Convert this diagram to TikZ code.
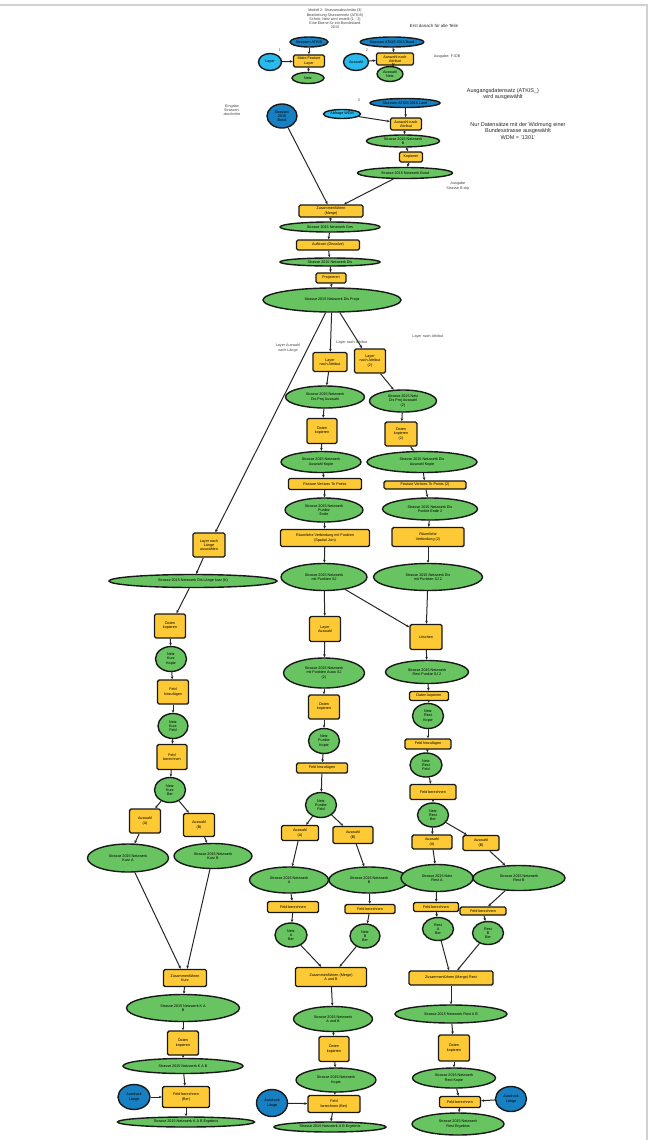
\documentclass[tikz,border=0pt]{standalone}
\usepackage{fontspec}
\setmainfont{Liberation Sans}
\usetikzlibrary{shapes.geometric, arrows.meta, positioning}
\definecolor{wkzgelb}{RGB}{253,201,52}
\definecolor{datgruen}{RGB}{104,196,96}
\definecolor{eindunkel}{RGB}{22,128,194}
\definecolor{paramhell}{RGB}{40,186,238}
\tikzset{wh/.style 2 args={minimum width=#1pt, minimum height=#2pt}}

\begin{document}
\begin{tikzpicture}[x=1pt, y=-1pt, >={Stealth[length=3pt, width=2.6pt]}, font=\fontsize{3.7}{4.2}\selectfont]
    \tikzstyle{wkz} = [rectangle, draw=black!90, fill=wkzgelb, line width=1.4pt, rounded corners=1.5pt, inner sep=0pt, align=center]
    \tikzstyle{dat} = [ellipse, draw=black!90, fill=datgruen, line width=1.4pt, inner sep=0pt, align=center]
    \tikzstyle{ein} = [ellipse, draw=black!90, fill=eindunkel, line width=1.4pt, inner sep=0pt, align=center]
    \tikzstyle{param} = [ellipse, draw=black!90, fill=paramhell, line width=1.4pt, inner sep=0pt, align=center]
    \tikzstyle{notiz} = [text=black!85, align=center, font=\fontsize{5.5}{6.6}\selectfont]
    \tikzstyle{klein} = [text=black!75, align=center, font=\fontsize{3.7}{4.3}\selectfont]
    \tikzstyle{pfeil} = [->, line width=1pt, draw=black!85]

    \useasboundingbox (0,0) rectangle (650,1140);
    \draw [black!18, line width=1.6pt] (0,5) -- (647,5) -- (647,1140);

    % Nodes: Kopf
    \node [klein] (kopf) at (335,19) {Modell 2: Strassenabschnitte (3)\\ Bearbeitung Strassennetz (ATKIS)\\ Schritt: Netz wird erstellt (1 - 3)\\ Eine Ebene für ein Bundesland\\ 2015};
    \node [notiz, font=\fontsize{4.4}{5}\selectfont] (hinweis) at (434,26) {Erst danach für alle Teile};

    \node [ein, wh={38}{10}] (einA) at (309,42) {Strassen ATKIS};
    \node [param, wh={23}{17}] (parA) at (270,62) {Layer};
    \node [wkz, wh={31}{12}] (makeA) at (309,61) {Make Feature\\ Layer};
    \node [dat, wh={32}{11}] (ausA) at (308,78) {Netz};
    \node [klein] at (280,50) {1};

    \node [ein, wh={61}{10}] (einB) at (392,42) {Strassen ATKIS 2015 Bund};
    \node [param, wh={25}{17}] (parB) at (356,62) {Auswahl};
    \node [wkz, wh={37}{12}] (selB) at (395,59) {Auswahl nach\\ Attribut};
    \node [dat, wh={26}{15}] (ausB) at (390,74) {Auswahl\\ Netz};
    \node [klein] at (367,50) {2};
    \node [klein] at (447,57) {Ausgabe: F:\textbackslash DB};

    \node [klein] (eingabe) at (232,110) {Eingabe\\ Strassen-\\ abschnitte};
    \node [ein, wh={30}{24}] (einC) at (282,116) {Strassen\\ 2015\\ Bund};
    \node [klein] at (359,100) {3};
    \node [ein, wh={70}{9}] (einD) at (405,103) {Strassen ATKIS 2015 Land};
    \node [param, wh={37}{9}] (parD) at (342,114) {Abfrage WDM};
    \node [wkz, wh={31}{12}] (selD) at (406,124) {Auswahl nach\\ Attribut};
    \node [dat, wh={73}{12}] (ausD1) at (403,141) {Strasse 2015 Netzwerk\\ B};
    \node [wkz, wh={23}{10}] (kopD) at (411,157) {Kopieren};
    \node [dat, wh={95}{11}] (ausD2) at (405,173) {Strasse 2015 Netzwerk Bund};
    \node [klein] at (458,186) {Ausgabe\\ Strasse B.shp};
    \node [notiz] at (503,94) {Ausgangsdatensatz (ATKIS\_)\\ wird ausgewählt};
    \node [notiz] at (518,131) {Nur Datensätze mit der Widmung einer\\ Bundesstrasse ausgewählt\\ WDM = '1301'};

    % Nodes: Mitte oben
    \node [wkz, wh={64}{12}] (merge1) at (331,211) {Zusammenführen\\ (Merge)};
    \node [dat, wh={100}{10}] (netz1) at (330,227) {Strasse 2015 Netzwerk Ges};
    \node [wkz, wh={63}{10}] (aufl) at (328,245) {Auflösen (Dissolve)};
    \node [dat, wh={100}{8}] (netz2) at (330,262) {Strasse 2015 Netzwerk Dis};
    \node [wkz, wh={30}{10}] (proj) at (331,278) {Projizieren};
    \node [dat, wh={138}{24}] (netz3) at (332,300) {Strasse 2015 Netzwerk Dis Projiz};
    \node [klein] at (288,348) {Layer Auswahl\\ nach Länge};
    \node [klein] at (352,343) {Layer nach Attribut};
    \node [klein] at (428,337) {Layer nach Attribut};

    % Nodes: Kette Mitte
    \node [wkz, wh={34}{19}] (h0) at (330,362) {Layer\\ nach Attribut};
    \node [dat, wh={79}{22}] (h1) at (325,397) {Strasse 2015 Netzwerk\\ Dis Proj Auswahl};
    \node [wkz, wh={30}{25}] (h2) at (322,431) {Daten\\ kopieren};
    \node [dat, wh={80}{21}] (h3) at (321,462) {Strasse 2015 Netzwerk\\ Auswahl Kopie};
    \node [wkz, wh={73}{11}] (h4) at (325,484) {Feature Vertices To Points};
    \node [dat, wh={78}{24}] (h5) at (324,510) {Strasse 2015 Netzwerk\\ Punkte\\ Ende};
    \node [wkz, wh={89}{17}] (h6) at (325,538) {Räumliche Verbindung mit Punkten\\ (Spatial Join)};
    \node [dat, wh={86}{27}] (h7) at (324,577) {Strasse 2015 Netzwerk\\ mit Punkten SJ};
    \node [wkz, wh={31}{25}] (h8) at (325,629) {Layer\\ Auswahl};
    \node [dat, wh={81}{30}] (h9) at (324,673) {Strasse 2015 Netzwerk\\ mit Punkten Ausw SJ\\ (2)};
    \node [wkz, wh={31}{24}] (h10) at (324,707) {Daten\\ kopieren};
    \node [dat, wh={31}{25}] (h11) at (324,741) {Netz\\ Punkte\\ Kopie};
    \node [wkz, wh={51}{10}] (h12) at (322,768) {Feld hinzufügen};
    \node [dat, wh={31}{25}] (h13) at (321,805) {Netz\\ Punkte\\ Feld};
    \node [wkz, wh={37}{15}] (h14a) at (300,833) {Auswahl\\ (A)};
    \node [wkz, wh={40}{17}] (h14b) at (353,835) {Auswahl\\ (B)};
    \node [dat, wh={79}{26}] (h15a) at (289,880) {Strasse 2015 Netzwerk\\ A};
    \node [dat, wh={80}{26}] (h15b) at (369,880) {Strasse 2015 Netzwerk\\ B};
    \node [wkz, wh={51}{11}] (h16a) at (293,907) {Feld berechnen};
    \node [wkz, wh={50}{9}] (h16b) at (370,909) {Feld berechnen};
    \node [dat, wh={32}{24}] (h17a) at (291,935) {Netz\\ A\\ Ber};
    \node [dat, wh={30}{24}] (h17b) at (365,936) {Netz\\ B\\ Ber};
    \node [wkz, wh={71}{19}] (h18) at (331,977) {Zusammenführen (Merge)\\ A und B};
    \node [dat, wh={79}{25}] (h19) at (333,1019) {Strasse 2015 Netzwerk\\ A und B};
    \node [wkz, wh={30}{25}] (h20) at (334,1049) {Daten\\ kopieren};
    \node [dat, wh={80}{24}] (h21) at (336,1080) {Strasse 2015 Netzwerk\\ Kopie};
    \node [wkz, wh={52}{17}] (h22) at (334,1104) {Feld\\ berechnen (Ber)};
    \node [ein, wh={31}{27}] (einH) at (272,1103) {Ausdruck\\ Länge};
    \node [dat, wh={112}{10}] (h23) at (330,1127) {Strasse 2015 Netzwerk A B Ergebnis};

    % Nodes: Kette rechts
    \node [wkz, wh={31}{24}] (i0) at (370,361) {Layer\\ nach Attribut\\ (2)};
    \node [dat, wh={67}{22}] (i1) at (403,401) {Strasse 2015 Netz\\ Dis Proj Auswahl\\ (2)};
    \node [wkz, wh={32}{24}] (i2) at (401,434) {Daten\\ kopieren\\ (2)};
    \node [dat, wh={110}{21}] (i3) at (422,462) {Strasse 2015 Netzwerk Dis\\ Auswahl Kopie};
    \node [wkz, wh={82}{8}] (i4) at (425,485) {Feature Vertices To Points (2)};
    \node [dat, wh={95}{22}] (i5) at (430,509) {Strasse 2015 Netzwerk Dis\\ Punkte Ende 2};
    \node [wkz, wh={72}{19}] (i6) at (428,537) {Räumliche\\ Verbindung (2)};
    \node [dat, wh={109}{27}] (i7) at (428,577) {Strasse 2015 Netzwerk Dis\\ mit Punkten SJ 2};
    \node [wkz, wh={32}{25}] (i8) at (426,637) {Löschen};
    \node [dat, wh={83}{23}] (i9) at (427,672) {Strasse 2015 Netzwerk\\ Rest Punkte SJ 2};
    \node [wkz, wh={39}{9}] (i10) at (429,696) {Daten kopieren};
    \node [dat, wh={31}{25}] (i11) at (428,716) {Netz\\ Rest\\ Kopie};
    \node [wkz, wh={46}{10}] (i12) at (428,744) {Feld hinzufügen};
    \node [dat, wh={32}{24}] (i13) at (426,765) {Netz\\ Rest\\ Feld};
    \node [wkz, wh={46}{15}] (i14) at (433,792) {Feld berechnen};
    \node [dat, wh={31}{24}] (i15) at (433,815) {Netz\\ Rest\\ Ber};
    \node [wkz, wh={40}{14}] (i16a) at (432,842) {Auswahl\\ (A)};
    \node [wkz, wh={36}{15}] (i16b) at (481,843) {Auswahl\\ (B)};
    \node [dat, wh={72}{27}] (i17a) at (437,878) {Strasse 2015 Netz\\ Rest A};
    \node [dat, wh={92}{25}] (i17b) at (519,878) {Strasse 2015 Netzwerk\\ Rest B};
    \node [wkz, wh={45}{9}] (i18a) at (436,907) {Feld berechnen};
    \node [wkz, wh={46}{8}] (i18b) at (483,911) {Feld berechnen};
    \node [dat, wh={31}{23}] (i19a) at (438,929) {Rest\\ A\\ Ber};
    \node [dat, wh={31}{23}] (i19b) at (488,933) {Rest\\ B\\ Ber};
    \node [wkz, wh={84}{14}] (i20) at (451,978) {Zusammenführen (Merge) Rest};
    \node [dat, wh={112}{18}] (i21) at (451,1014) {Strasse 2015 Netzwerk Rest A B};
    \node [wkz, wh={31}{26}] (i22) at (454,1048) {Daten\\ kopieren};
    \node [dat, wh={83}{20}] (i23) at (454,1078) {Strasse 2015 Netzwerk\\ Rest Kopie};
    \node [wkz, wh={41}{11}] (i24) at (460,1102) {Feld berechnen};
    \node [ein, wh={31}{25}] (einI) at (511,1099) {Ausdruck\\ Länge};
    \node [dat, wh={92}{22}] (i25) at (458,1124) {Strasse 2015 Netzwerk\\ Rest Ergebnis};

    % Nodes: Kette links
    \node [wkz, wh={32}{24}] (l0) at (209,545) {Layer nach\\ Länge\\ auswählen};
    \node [dat, wh={168}{13}] (l1) at (193,581) {Strasse 2015 Netzwerk Dis Länge kurz (K)};
    \node [wkz, wh={31}{24}] (l2) at (170,626) {Daten\\ kopieren};
    \node [dat, wh={31}{25}] (l3) at (171,659) {Netz\\ Kurz\\ Kopie};
    \node [wkz, wh={31}{24}] (l4) at (173,692) {Feld\\ hinzufügen};
    \node [dat, wh={30}{25}] (l5) at (173,726) {Netz\\ Kurz\\ Feld};
    \node [wkz, wh={30}{25}] (l6) at (172,757) {Feld\\ berechnen};
    \node [dat, wh={31}{25}] (l7) at (170,790) {Netz\\ Kurz\\ Ber};
    \node [wkz, wh={31}{24}] (l8a) at (145,821) {Auswahl\\ (A)};
    \node [wkz, wh={31}{23}] (l8b) at (199,825) {Auswahl\\ (B)};
    \node [dat, wh={81}{28}] (l9a) at (128,858) {Strasse 2015 Netzwerk\\ Kurz A};
    \node [dat, wh={78}{25}] (l9b) at (213,856) {Strasse 2015 Netzwerk\\ Kurz B};
    \node [wkz, wh={43}{17}] (l10) at (185,978) {Zusammenführen\\ Kurz};
    \node [dat, wh={113}{27}] (l11) at (183,1008) {Strasse 2015 Netzwerk K A\\ B};
    \node [wkz, wh={31}{24}] (l12) at (183,1043) {Daten\\ kopieren};
    \node [dat, wh={120}{15}] (l13) at (183,1066) {Strasse 2015 Netzwerk K A B};
    \node [wkz, wh={47}{21}] (l14) at (186,1097) {Feld berechnen\\ (Ber)};
    \node [ein, wh={32}{25}] (einL) at (134,1097) {Ausdruck\\ Länge};
    \node [dat, wh={137}{10}] (l15) at (186,1122) {Strasse 2015 Netzwerk K A B Ergebnis};

    % Connections: Kopf
    \draw [pfeil] (einA) -- (makeA);
    \draw [pfeil] (parA) -- (makeA);
    \draw [pfeil] (makeA) -- (ausA);
    \draw [pfeil] (einB) -- (selB);
    \draw [pfeil] (parB) -- (selB);
    \draw [pfeil] (selB) -- (ausB);
    \draw [pfeil] (einD) -- (selD);
    \draw [pfeil] (parD) -- (selD);
    \draw [pfeil] (selD) -- (ausD1);
    \draw [pfeil] (ausD1) -- (kopD);
    \draw [pfeil] (kopD) -- (ausD2);
    \draw [pfeil] (einC) -- (merge1);
    \draw [pfeil] (ausD2) -- (merge1);
    \draw [pfeil] (merge1) -- (netz1);
    \draw [pfeil] (netz1) -- (aufl);
    \draw [pfeil] (aufl) -- (netz2);
    \draw [pfeil] (netz2) -- (proj);
    \draw [pfeil] (proj) -- (netz3);
    \draw [pfeil] (netz3) -- (l0);
    \draw [pfeil] (netz3) -- (h0);
    \draw [pfeil] (netz3) -- (i0);

    % Connections: Mitte
    \draw [pfeil] (h0) -- (h1);
    \draw [pfeil] (h1) -- (h2);
    \draw [pfeil] (h2) -- (h3);
    \draw [pfeil] (h3) -- (h4);
    \draw [pfeil] (h4) -- (h5);
    \draw [pfeil] (h5) -- (h6);
    \draw [pfeil] (h6) -- (h7);
    \draw [pfeil] (h7) -- (h8);
    \draw [pfeil] (h7) -- (i8);
    \draw [pfeil] (h8) -- (h9);
    \draw [pfeil] (h9) -- (h10);
    \draw [pfeil] (h10) -- (h11);
    \draw [pfeil] (h11) -- (h12);
    \draw [pfeil] (h12) -- (h13);
    \draw [pfeil] (h13) -- (h14a);
    \draw [pfeil] (h13) -- (h14b);
    \draw [pfeil] (h14a) -- (h15a);
    \draw [pfeil] (h14b) -- (h15b);
    \draw [pfeil] (h15a) -- (h16a);
    \draw [pfeil] (h15b) -- (h16b);
    \draw [pfeil] (h16a) -- (h17a);
    \draw [pfeil] (h16b) -- (h17b);
    \draw [pfeil] (h17a) -- (h18);
    \draw [pfeil] (h17b) -- (h18);
    \draw [pfeil] (h18) -- (h19);
    \draw [pfeil] (h19) -- (h20);
    \draw [pfeil] (h20) -- (h21);
    \draw [pfeil] (h21) -- (h22);
    \draw [pfeil] (einH) -- (h22);
    \draw [pfeil] (h22) -- (h23);

    % Connections: rechts
    \draw [pfeil] (i0) -- (i1);
    \draw [pfeil] (i1) -- (i2);
    \draw [pfeil] (i2) -- (i3);
    \draw [pfeil] (i3) -- (i4);
    \draw [pfeil] (i4) -- (i5);
    \draw [pfeil] (i5) -- (i6);
    \draw [pfeil] (i6) -- (i7);
    \draw [pfeil] (i7) -- (i8);
    \draw [pfeil] (i8) -- (i9);
    \draw [pfeil] (i9) -- (i10);
    \draw [pfeil] (i10) -- (i11);
    \draw [pfeil] (i11) -- (i12);
    \draw [pfeil] (i12) -- (i13);
    \draw [pfeil] (i13) -- (i14);
    \draw [pfeil] (i14) -- (i15);
    \draw [pfeil] (i15) -- (i16a);
    \draw [pfeil] (i15) -- (i16b);
    \draw [pfeil] (i16a) -- (i17a);
    \draw [pfeil] (i16b) -- (i17b);
    \draw [pfeil] (i17a) -- (i18a);
    \draw [pfeil] (i17b) -- (i18b);
    \draw [pfeil] (i18a) -- (i19a);
    \draw [pfeil] (i18b) -- (i19b);
    \draw [pfeil] (i19a) -- (i20);
    \draw [pfeil] (i19b) -- (i20);
    \draw [pfeil] (i20) -- (i21);
    \draw [pfeil] (i21) -- (i22);
    \draw [pfeil] (i22) -- (i23);
    \draw [pfeil] (i23) -- (i24);
    \draw [pfeil] (einI) -- (i24);
    \draw [pfeil] (i24) -- (i25);

    % Connections: links
    \draw [pfeil] (l0) -- (l1);
    \draw [pfeil] (l1) -- (l2);
    \draw [pfeil] (l2) -- (l3);
    \draw [pfeil] (l3) -- (l4);
    \draw [pfeil] (l4) -- (l5);
    \draw [pfeil] (l5) -- (l6);
    \draw [pfeil] (l6) -- (l7);
    \draw [pfeil] (l7) -- (l8a);
    \draw [pfeil] (l7) -- (l8b);
    \draw [pfeil] (l8a) -- (l9a);
    \draw [pfeil] (l8b) -- (l9b);
    \draw [pfeil] (l9a) -- (l10);
    \draw [pfeil] (l9b) -- (l10);
    \draw [pfeil] (l10) -- (l11);
    \draw [pfeil] (l11) -- (l12);
    \draw [pfeil] (l12) -- (l13);
    \draw [pfeil] (l13) -- (l14);
    \draw [pfeil] (einL) -- (l14);
    \draw [pfeil] (l14) -- (l15);
  \end{tikzpicture}
\end{document}
